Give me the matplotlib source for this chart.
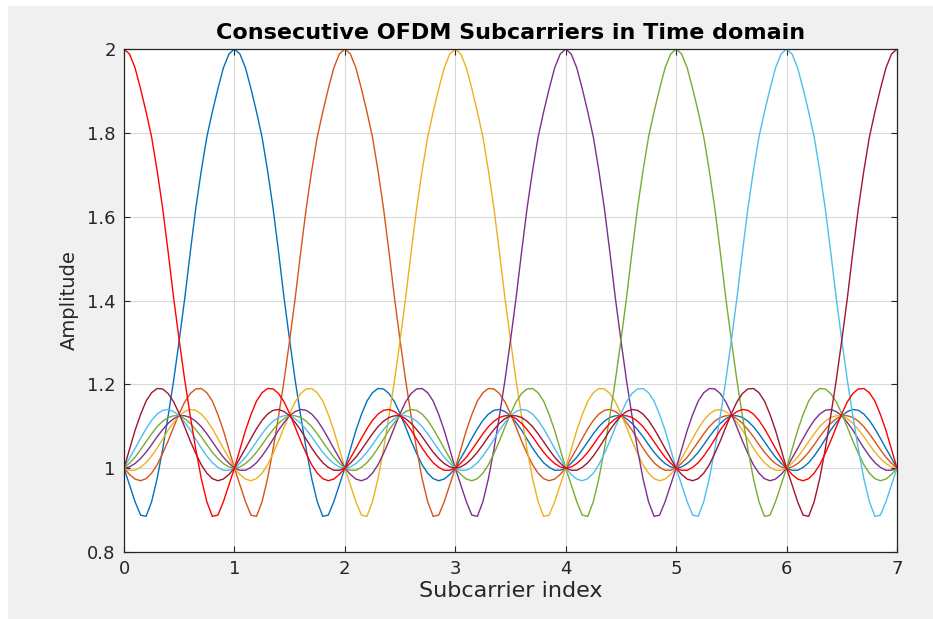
import numpy as np
import matplotlib
matplotlib.use("Agg")
import matplotlib.pyplot as plt
from matplotlib.patches import Rectangle

# subcarrier peak positions and their line colours
peaks = [0, 1, 2, 3, 4, 5, 6, 7]
colors = ['#FF0000', '#0072BD', '#D95319', '#EDB120',
          '#7E2F8E', '#77AC30', '#4DBEEE', '#A2142F']

# shape of one subcarrier (amplitude - 1),
# at distances 0, 0.05, ... 4.0 from its peak (same on both sides, repeats every 8)
step = 0.05
lobe = [1.000, 0.988, 0.955, 0.905, 0.850, 0.790, 0.710, 0.620, 0.515, 0.405,
        0.305, 0.210, 0.125, 0.045, -0.025, -0.080, -0.115, -0.112, -0.080, -0.040,
        0.000, 0.045, 0.090, 0.128, 0.160, 0.180, 0.190, 0.189, 0.178, 0.158,
        0.130, 0.098, 0.065, 0.035, 0.008, -0.012, -0.025, -0.030, -0.026, -0.015,
        0.000, 0.024, 0.047, 0.071, 0.094, 0.114, 0.129, 0.138, 0.140, 0.135,
        0.125, 0.109, 0.091, 0.069, 0.048, 0.029, 0.013, 0.002, -0.005, -0.005,
        0.000, 0.012, 0.026, 0.044, 0.063, 0.082, 0.099, 0.112, 0.121, 0.125,
        0.125, 0.118, 0.107, 0.092, 0.075, 0.056, 0.038, 0.023, 0.011, 0.003,
        0.000]
lobe = np.array(lobe)

xticks = [0, 1, 2, 3, 4, 5, 6, 7]
yticks = [0.8, 1, 1.2, 1.4, 1.6, 1.8, 2]
yticklabels = ['0.8', '1', '1.2', '1.4', '1.6', '1.8', '2']

fig = plt.figure(figsize=(9.33, 6.19), dpi=100, facecolor='#f0f0f0')
# thin white strips along the top and left edge of the screenshot
fig.patches.append(Rectangle((0, 1 - 6 / 619), 1, 6 / 619, transform=fig.transFigure,
                             facecolor='white', edgecolor='none', zorder=-10))
fig.patches.append(Rectangle((0, 0), 8 / 933, 1, transform=fig.transFigure,
                             facecolor='white', edgecolor='none', zorder=-10))
ax = fig.add_axes([124 / 933, 1 - 552 / 619, (897 - 124) / 933, (552 - 49) / 619])
ax.set_facecolor('white')

n = int(round(7 / step)) + 1
x = np.arange(n) * step
order = [1, 2, 3, 4, 5, 6, 7, 0]
for i in order:
    off = (x - peaks[i] + 4) % 8 - 4
    idx = np.rint(np.abs(off) / step).astype(int)
    ax.plot(x, 1 + lobe[idx], color=colors[i], lw=1.0)

ax.set_xlim(0, 7)
ax.set_ylim(0.8, 2)
ax.set_xticks(xticks)
ax.set_yticks(yticks)
ax.set_yticklabels(yticklabels)
ax.grid(True, color='#d9d9d9', lw=0.8)
ax.set_axisbelow(True)
ax.tick_params(direction='in', length=4, width=0.8, top=True, right=True,
               labelsize=13, colors='#262626', pad=6)
for s in ax.spines.values():
    s.set_color('#262626')
    s.set_linewidth(0.9)

ax.set_title('Consecutive OFDM Subcarriers in Time domain', fontsize=16,
             fontweight='bold', color='black', pad=7)
ax.set_xlabel('Subcarrier index', fontsize=16, color='#262626', labelpad=2)
ax.set_ylabel('Amplitude', fontsize=14, color='#262626', labelpad=6)

fig.savefig('out.png', dpi=100, facecolor=fig.get_facecolor())
